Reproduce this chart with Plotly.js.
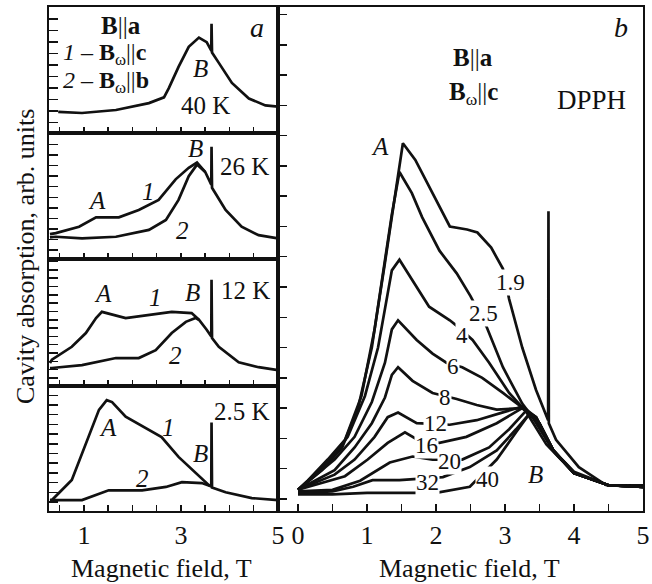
<!DOCTYPE html>
<html>
<head>
<meta charset="utf-8">
<script src="https://cdn.plot.ly/plotly-3.0.1.min.js"></script>
<style>html,body{margin:0;padding:0;background:#fff;}</style>
</head>
<body>
<div id="chart" style="width:652px;height:584px;"></div>
<script>
// ---------- Panel a (field in T, absorption in arb. units) ----------
const a40_x = [0.47, 0.96, 1.66, 2.34, 2.65, 2.75, 2.95, 3.16, 3.37, 3.53, 3.62, 3.625, 3.63, 3.635, 3.64, 3.78, 4.05, 4.4, 4.74, 5.0];
const a40_y = [0.93, 0.84, 1.1, 1.7, 2.2, 3.0, 4.85, 6.6, 7.4, 7.0, 6.3, 6.3, 8.6, 6.2, 6.1, 5.2, 3.45, 2.1, 1.5, 1.4];

const a26_1x = [0.3, 0.42, 0.9, 1.25, 1.72, 2.13, 2.54, 2.89, 3.16, 3.33, 3.5, 3.62, 3.625, 3.63, 3.635, 3.64, 3.92, 4.25, 4.6, 5.0];
const a26_1y = [1.5, 1.6, 2.2, 3.1, 3.1, 3.8, 4.75, 6.7, 7.8, 8.3, 7.4, 6.2, 6.2, 9.8, 6.0, 5.9, 3.8, 2.2, 1.4, 1.1];
const a26_2x = [0.3, 0.42, 0.96, 1.66, 2.34, 2.69, 2.95, 3.16, 3.33, 3.5];
const a26_2y = [1.2, 1.25, 1.1, 1.25, 1.9, 2.85, 4.75, 7.0, 8.1, 7.4];

const a12_1x = [0.3, 0.34, 0.75, 1.04, 1.25, 1.37, 1.86, 2.34, 2.81, 3.22, 3.37, 3.53, 3.62, 3.625, 3.63, 3.635, 3.64, 3.78, 4.19, 4.6, 5.0];
const a12_1y = [1.8, 2.2, 3.75, 5.4, 7.2, 7.95, 7.2, 7.6, 7.95, 7.8, 7.0, 5.8, 5.0, 5.0, 11.8, 4.9, 4.8, 3.75, 1.9, 1.3, 0.95];
const a12_2x = [0.3, 0.34, 0.96, 1.66, 2.13, 2.48, 2.81, 3.1, 3.3, 3.37];
const a12_2y = [1.2, 1.2, 1.55, 2.4, 2.4, 3.35, 5.4, 6.75, 7.2, 7.0];

const a25_1x = [0.3, 0.34, 0.75, 1.1, 1.31, 1.47, 1.58, 1.86, 2.28, 2.6, 2.95, 3.3, 3.57, 3.62, 3.625, 3.63, 3.635, 3.64, 3.92, 4.46, 5.0];
const a25_1y = [0.2, 0.2, 2.27, 6.7, 9.5, 10.5, 10.3, 8.8, 7.6, 6.7, 4.65, 3.0, 1.75, 1.6, 1.6, 8.2, 1.55, 1.5, 1.0, 0.4, 0.2];
const a25_2x = [0.3, 0.34, 0.96, 1.51, 2.2, 2.69, 3.02, 3.43, 3.6];
const a25_2y = [0.2, 0.2, 0.2, 1.2, 1.2, 1.55, 2.05, 1.95, 1.65];

// ---------- Panel b (temperatures in K) ----------
const b_labels = ["1.9", "2.5", "4", "6", "8", "12", "16", "20", "32", "40"];
const b19_x = [0, 0.14, 0.43, 0.68, 0.92, 1.11, 1.26, 1.40, 1.52, 1.7, 1.9, 2.2, 2.45, 2.6, 2.8, 2.97, 3.06, 3.25, 3.45, 3.6, 3.625, 3.63, 3.635, 3.74, 4.07, 4.47, 5.0];
const b19_y = [0.3, 0.6, 1.3, 1.95, 3.4, 5.6, 7.8, 10.0, 11.75, 11.2, 10.3, 9.0, 8.9, 8.8, 8.3, 7.6, 6.6, 5.0, 3.6, 2.7, 2.6, 9.5, 2.5, 1.95, 1.05, 0.45, 0.4];
const b25_x = [0, 0.35, 0.64, 0.87, 1.07, 1.21, 1.36, 1.47, 1.65, 1.8, 2.05, 2.3, 2.5, 2.73, 2.97, 3.25, 3.4, 3.7, 4.0, 4.5, 5.0];
const b25_y = [0.3, 0.95, 1.7, 3.0, 5.0, 7.2, 9.4, 10.8, 10.1, 9.3, 8.2, 7.45, 6.7, 5.7, 4.35, 3.15, 2.7, 1.6, 0.9, 0.45, 0.45];
const b4_x = [0, 0.43, 0.72, 0.97, 1.16, 1.30, 1.36, 1.47, 1.66, 1.9, 2.2, 2.31, 2.53, 2.77, 3.06, 3.3, 3.6, 4.0, 4.5, 5.0];
const b4_y = [0.3, 1.2, 2.05, 3.4, 5.0, 6.7, 7.55, 7.9, 7.2, 6.35, 5.9, 5.7, 5.25, 4.5, 3.5, 2.9, 1.8, 0.85, 0.45, 0.4];
const b6_x = [0, 0.53, 0.82, 1.07, 1.26, 1.36, 1.45, 1.72, 1.95, 2.15, 2.38, 2.67, 2.97, 3.2, 3.4, 3.7, 4.0, 4.5, 5.0];
const b6_y = [0.3, 1.3, 2.05, 3.2, 4.5, 5.6, 5.9, 5.25, 4.8, 4.5, 4.35, 4.0, 3.5, 3.1, 2.7, 1.6, 0.85, 0.45, 0.45];
const b8_x = [0, 0.53, 0.82, 1.07, 1.26, 1.36, 1.45, 1.66, 1.95, 2.3, 2.59, 2.88, 3.25, 3.45, 3.7, 4.0, 4.5, 5.0];
const b8_y = [0.3, 0.95, 1.7, 2.5, 3.35, 4.1, 4.35, 3.9, 3.5, 3.3, 3.1, 2.95, 3.0, 2.6, 1.6, 0.85, 0.45, 0.4];
const b12_x = [0, 0.53, 0.82, 1.11, 1.3, 1.45, 1.72, 2.2, 2.59, 2.97, 3.25, 3.45, 3.7, 4.0, 4.5, 5.0];
const b12_y = [0.3, 0.8, 1.3, 2.05, 2.7, 2.85, 2.5, 2.45, 2.6, 2.85, 3.05, 2.7, 1.6, 0.85, 0.45, 0.4];
const b16_x = [0, 0.68, 1.01, 1.3, 1.55, 1.7, 2.05, 2.44, 2.88, 3.25, 3.45, 3.7, 4.0, 4.5, 5.0];
const b16_y = [0.3, 0.75, 1.3, 1.85, 2.2, 2.0, 1.85, 2.05, 2.5, 3.0, 2.7, 1.6, 0.85, 0.45, 0.4];
const b20_x = [0, 0.5, 0.9, 1.33, 1.66, 1.95, 2.38, 2.77, 3.06, 3.3, 3.45, 3.7, 4.0, 4.5, 5.0];
const b20_y = [0.25, 0.3, 0.6, 1.2, 1.4, 1.3, 1.3, 1.7, 2.3, 2.9, 2.7, 1.6, 0.85, 0.45, 0.4];
const b32_x = [0, 0.5, 0.8, 1.08, 1.47, 1.66, 2.1, 2.49, 2.88, 3.16, 3.35, 3.5, 3.7, 4.0, 4.5, 5.0];
const b32_y = [0.2, 0.25, 0.4, 0.62, 0.62, 0.65, 0.72, 1.05, 1.6, 2.3, 2.8, 2.5, 1.6, 0.85, 0.45, 0.4];
const b40_x = [0, 0.5, 1.0, 1.5, 2.0, 2.49, 2.88, 3.16, 3.35, 3.5, 3.7, 4.0, 4.5, 5.0];
const b40_y = [0.15, 0.15, 0.2, 0.2, 0.2, 0.4, 1.3, 2.2, 2.8, 2.5, 1.6, 0.85, 0.45, 0.4];

const tickA_vals = [0.5, 1, 1.5, 2, 2.5, 3, 3.5, 4, 4.5, 5];
const tickA_text = ["", "1", "", "", "", "3", "", "", "", "5"];
const tickB_vals = [0, 0.5, 1, 1.5, 2, 2.5, 3, 3.5, 4, 4.5, 5];
const tickB_text = ["0", "", "1", "", "2", "", "3", "", "4", "", "5"];

const W = 652, H = 584;
const FONT = "Liberation Serif";
const INK = "#111";

function line(x, y, xa, ya, w) {
  return {x: x, y: y, xaxis: xa, yaxis: ya, type: "scatter", mode: "lines",
          line: {color: INK, width: w || 2.7}, hoverinfo: "skip"};
}

const traces = [
  line(a25_1x, a25_1y, "x", "y"), line(a25_2x, a25_2y, "x", "y"),
  line(a12_1x, a12_1y, "x2", "y2"), line(a12_2x, a12_2y, "x2", "y2"),
  line(a26_1x, a26_1y, "x3", "y3"), line(a26_2x, a26_2y, "x3", "y3"),
  line(a40_x, a40_y, "x4", "y4"),
  line(b19_x, b19_y, "x5", "y5"), line(b25_x, b25_y, "x5", "y5"),
  line(b4_x, b4_y, "x5", "y5"), line(b6_x, b6_y, "x5", "y5"),
  line(b8_x, b8_y, "x5", "y5"), line(b12_x, b12_y, "x5", "y5"),
  line(b16_x, b16_y, "x5", "y5"), line(b20_x, b20_y, "x5", "y5"),
  line(b32_x, b32_y, "x5", "y5"), line(b40_x, b40_y, "x5", "y5")
];

const xA = [49 / W, 278 / W];
const xB = [278 / W, 643 / W];
function py(p) { return 1 - p / H; }
const yDom = [[py(511), py(386)], [py(386), py(259)], [py(259), py(133)], [py(133), py(7)]];
const yRanges = [[-0.93, 11.96], [-0.96, 14.3], [-0.86, 11.1], [-0.9, 10.06]];

function xaxisA(dom, anchor, showLabels) {
  return {domain: xA, anchor: anchor, range: [0.28, 5], tickmode: "array",
          tickvals: tickA_vals, ticktext: showLabels ? tickA_text : tickA_vals.map(() => ""),
          ticks: "inside", ticklen: 6, tickwidth: 1.5, tickcolor: INK,
          showline: true, linecolor: INK, linewidth: 2, mirror: true,
          showgrid: false, zeroline: false, ticklabelstandoff: 0,
          tickfont: {family: FONT, size: 26, color: INK}};
}
function yaxisA(i, anchor) {
  return {domain: yDom[i], anchor: anchor, range: yRanges[i], tick0: 0, dtick: 1,
          ticks: "inside", ticklen: 9, tickwidth: 1.5, tickcolor: INK,
          showticklabels: false, showline: true, linecolor: INK, linewidth: 2,
          mirror: true, showgrid: false, zeroline: false};
}

const layout = {
  width: W, height: H, margin: {l: 0, r: 0, t: 0, b: 0},
  paper_bgcolor: "#fff", plot_bgcolor: "#fff", showlegend: false,
  font: {family: FONT, color: INK},
  xaxis: xaxisA(0, "y", true), yaxis: yaxisA(0, "x"),
  xaxis2: xaxisA(1, "y2", false), yaxis2: yaxisA(1, "x2"),
  xaxis3: xaxisA(2, "y3", false), yaxis3: yaxisA(2, "x3"),
  xaxis4: xaxisA(3, "y4", false), yaxis4: yaxisA(3, "x4"),
  xaxis5: {domain: xB, anchor: "y5", range: [-0.29, 5], tickmode: "array",
           tickvals: tickB_vals, ticktext: tickB_text,
           ticks: "inside", ticklen: 7, tickwidth: 1.5, tickcolor: INK,
           showline: true, linecolor: INK, linewidth: 2, mirror: true,
           showgrid: false, zeroline: false, ticklabelstandoff: 0,
           tickfont: {family: FONT, size: 26, color: INK}},
  yaxis5: {domain: [py(511), py(7)], anchor: "x5", range: [-0.4, 16.25], tick0: 0, dtick: 1,
           ticks: "inside", ticklen: 9, tickwidth: 1.5, tickcolor: INK,
           showticklabels: false, showline: true, linecolor: INK, linewidth: 2,
           mirror: true, showgrid: false, zeroline: false},
  annotations: []
};

function ann(px, pyy, text, opts) {
  opts = opts || {};
  const a = {x: px / W, y: py(pyy), xref: "paper", yref: "paper", text: text,
             showarrow: false, xanchor: opts.xanchor || "center", yanchor: "middle",
             font: {family: FONT, size: opts.size || 25, color: INK}};
  if (opts.angle !== undefined) a.textangle = opts.angle;
  if (opts.bg) { a.bgcolor = "#fff"; a.borderpad = 0; }
  return a;
}
const A = layout.annotations;
// axis titles
A.push(ann(26, 257, "Cavity absorption, arb. units", {angle: -90, size: 26}));
A.push(ann(161, 568, "Magnetic field, T", {size: 26}));
A.push(ann(470, 568, "Magnetic field, T", {size: 26}));
// panel a
A.push(ann(257, 28, "<i>a</i>", {size: 28}));
A.push(ann(99, 26, "<b>B</b>||<b>a</b>", {xanchor: "left", size: 25}));
A.push(ann(61, 54, "<i>1</i> – <b>B</b><sub>ω</sub>||<b>c</b>", {xanchor: "left", size: 24}));
A.push(ann(61, 82, "<i>2</i> – <b>B</b><sub>ω</sub>||<b>b</b>", {xanchor: "left", size: 24}));
A.push(ann(200, 68, "<i>B</i>"));
A.push(ann(205, 106, "40 K"));
A.push(ann(195, 148, "<i>B</i>"));
A.push(ann(244, 166, "26 K"));
A.push(ann(97, 200, "<i>A</i>"));
A.push(ann(148, 191, "<i>1</i>"));
A.push(ann(182, 230, "<i>2</i>"));
A.push(ann(103, 293, "<i>A</i>"));
A.push(ann(155, 297, "<i>1</i>"));
A.push(ann(192, 292, "<i>B</i>"));
A.push(ann(245, 290, "12 K"));
A.push(ann(175, 355, "<i>2</i>"));
A.push(ann(108, 427, "<i>A</i>"));
A.push(ann(168, 427, "<i>1</i>"));
A.push(ann(200, 453, "<i>B</i>"));
A.push(ann(242, 411, "2.5 K"));
A.push(ann(142, 478, "<i>2</i>"));
// panel b
A.push(ann(621, 27, "<i>b</i>", {size: 28}));
A.push(ann(473, 57, "<b>B</b>||<b>a</b>", {size: 25}));
A.push(ann(473, 93, "<b>B</b><sub>ω</sub>||<b>c</b>", {size: 25}));
A.push(ann(380, 147, "<i>A</i>"));
A.push(ann(591, 100, "DPPH", {size: 27}));
A.push(ann(535, 474, "<i>B</i>"));
const bLabelPos = [[510, 282], [483, 313], [462, 335], [453, 366], [445, 397], [435, 423], [426, 445], [449, 461], [427, 482], [487, 479]];
b_labels.forEach((t, i) => A.push(ann(bLabelPos[i][0], bLabelPos[i][1], t, {bg: true, size: 23})));

Plotly.newPlot("chart", traces, layout, {staticPlot: true});
</script>
</body>
</html>
